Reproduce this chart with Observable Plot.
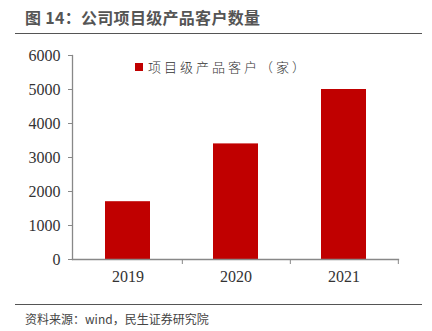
<!DOCTYPE html>
<html><head><meta charset="utf-8">
<script src="https://cdn.jsdelivr.net/npm/d3@7"></script>
<script src="https://cdn.jsdelivr.net/npm/@observablehq/plot@0.6"></script>
<style>
body{margin:0;background:#fff;}
#wrap{position:relative;width:432px;height:331px;overflow:hidden;background:#fff;}
#title{position:absolute;left:25px;top:5px;font-family:"Noto Sans CJK SC",sans-serif;font-weight:bold;font-size:16px;color:#555;letter-spacing:0.3px;}
#tline{position:absolute;left:15px;top:33px;width:407px;height:0;border-top:1.5px solid #555;}
#chart{position:absolute;left:0;top:40px;}
#chart svg text{font-family:"Liberation Serif","Times New Roman",serif;}
#legend{position:absolute;left:135px;top:57px;font-family:"Noto Sans CJK SC",serif;font-size:13px;color:#333;letter-spacing:3px;display:flex;align-items:center;font-weight:300;}
#legend span.sw{display:inline-block;width:8px;height:8px;background:#C00000;margin-right:5px;}
#fline{position:absolute;left:15px;top:304px;width:407px;height:0;border-top:1.5px solid #555;}
#source{position:absolute;left:25px;top:310px;font-family:"Noto Sans CJK SC",sans-serif;font-size:12px;color:#444;}
</style></head>
<body>
<div id="wrap">
<div id="title">图 14：公司项目级产品客户数量</div>
<div id="tline"></div>
<div id="chart"></div>
<div id="legend"><span class="sw"></span>项目级产品客户（家）</div>
<div id="fline"></div>
<div id="source">资料来源：wind，民生证券研究院</div>
</div>
<script>
const years = ["2019", "2020", "2021"];
const customers = [1700, 3400, 5000];
const yTicks = [0, 1000, 2000, 3000, 4000, 5000, 6000];
const seriesName = "项目级产品客户（家）";

const data = years.map((y, i) => ({year: y, value: customers[i]}));
const W = 432, H = 262, mL = 72, mR = 34;
const halfStep = (W - mL - mR) / years.length / 2;
const axisColor = "#888";
const serif = "'Liberation Serif', 'Times New Roman', serif";
const chart = Plot.plot({
  width: W, height: H,
  marginTop: 15, marginBottom: 43, marginLeft: mL, marginRight: mR,
  style: {fontFamily: serif, fontSize: "16px", color: "#333", background: "#fff"},
  x: {domain: years, paddingInner: 0.585, paddingOuter: 0.2925, align: 0.5, label: null},
  y: {domain: [0, 6000], label: null},
  marks: [
    Plot.barY(data, {x: "year", y: "value", fill: "#C00000"}),
    Plot.axisY({ticks: yTicks, tickSize: 4, tickPadding: 8, stroke: axisColor, fill: "#333", fontSize: 16, fontFamily: serif, label: null, tickFormat: d => String(d)}),
    Plot.axisX({tickSize: 0, tickPadding: 11, fill: "#333", fontSize: 16, fontFamily: serif, label: null}),
    Plot.axisX({tickSize: 5, text: null, stroke: axisColor, dx: halfStep, label: null}),
    Plot.frame({anchor: "left", stroke: axisColor, strokeWidth: 1.3}),
    Plot.frame({anchor: "bottom", stroke: axisColor, strokeWidth: 1.3})
  ]
});
document.getElementById("chart").appendChild(chart);
</script>
</body></html>
